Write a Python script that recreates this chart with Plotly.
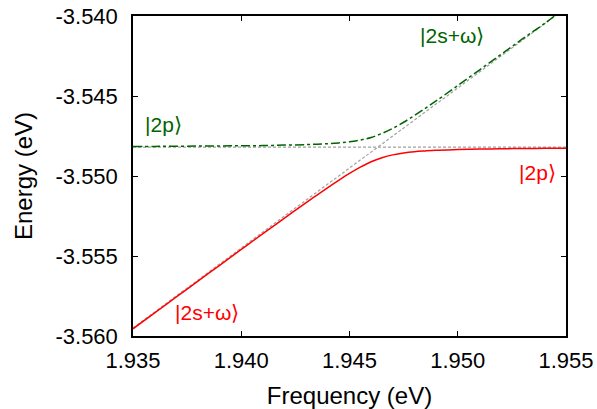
import plotly.graph_objects as go

# Frequency samples (eV)
freq = [1.935, 1.936, 1.937, 1.938, 1.939, 1.940, 1.941, 1.942, 1.943, 1.9435,
        1.944, 1.9445, 1.945, 1.9455, 1.946, 1.9465, 1.947, 1.9475, 1.948, 1.9485,
        1.949, 1.950, 1.951, 1.952, 1.953, 1.954, 1.955]

# Lower branch (red, solid)
lower = [-3.55955, -3.55855, -3.55756, -3.55657, -3.55558, -3.55459, -3.55360, -3.55263,
         -3.55166, -3.55119, -3.55072, -3.55027, -3.54984, -3.54945, -3.54911, -3.54886,
         -3.54868, -3.54856, -3.54848, -3.54843, -3.54839, -3.54835, -3.54832, -3.54830,
         -3.54828, -3.54827, -3.54826]

# Upper branch (green, dash-dot)
upper = [-3.54815, -3.54815, -3.54814, -3.54813, -3.54812, -3.54811, -3.54810, -3.54807,
         -3.54804, -3.54801, -3.54798, -3.54793, -3.54786, -3.54775, -3.54759, -3.54734,
         -3.54702, -3.54664, -3.54622, -3.54577, -3.54531, -3.54435, -3.54338, -3.54240,
         -3.54142, -3.54048, -3.53944]

# Uncoupled states (gray dashed)
bare_x = [1.935, 1.955]
bare_2p = [-3.5482, -3.5482]
bare_2s = [-3.5595, -3.5395]

x_ticks = [1.935, 1.940, 1.945, 1.950, 1.955]
y_ticks = [-3.560, -3.555, -3.550, -3.545, -3.540]

font = "Liberation Sans, Arial, Helvetica, sans-serif"
gray = "#a0a0a0"
green = "#006400"
red = "#ff0000"

fig = go.Figure()
fig.add_trace(go.Scatter(x=bare_x, y=bare_2p, mode="lines",
                         line=dict(color=gray, width=1.2, dash="3px,2px"), hoverinfo="skip"))
fig.add_trace(go.Scatter(x=bare_x, y=bare_2s, mode="lines",
                         line=dict(color=gray, width=1.2, dash="3px,2px"), hoverinfo="skip"))
fig.add_trace(go.Scatter(x=freq, y=upper, mode="lines", line_shape="spline",
                         line=dict(color=green, width=1.5, dash="dashdot")))
fig.add_trace(go.Scatter(x=freq, y=lower, mode="lines", line_shape="spline",
                         line=dict(color=red, width=1.5)))

ann = [
    dict(x=1.93545, y=-3.54681, text="|2p⟩", color=green),
    dict(x=1.94816, y=-3.54119, text="|2s+ω⟩", color=green),
    dict(x=1.95274, y=-3.54975, text="|2p⟩", color=red),
    dict(x=1.93685, y=-3.55856, text="|2s+ω⟩", color=red),
]
for a in ann:
    fig.add_annotation(x=a["x"], y=a["y"], text=a["text"], showarrow=False,
                       xanchor="left", yanchor="middle",
                       font=dict(family=font, size=21, color=a["color"]))

axis_common = dict(showgrid=False, zeroline=False, showline=True, linecolor="black",
                   linewidth=1.5, mirror="ticks", ticks="inside", ticklen=5,
                   tickcolor="black", tickwidth=1, automargin=False,
                   tickfont=dict(family=font, size=22, color="black"))

fig.update_xaxes(range=[1.935, 1.955], tickvals=x_ticks,
                 ticktext=[f"{v:.3f}" for v in x_ticks],
                 ticklabelstandoff=4,
                 title=dict(text="Frequency (eV)", font=dict(family=font, size=24, color="black"),
                            standoff=20),
                 **axis_common)
fig.update_yaxes(range=[-3.560, -3.540], tickvals=y_ticks,
                 ticktext=[f"{v:.3f}" for v in y_ticks],
                 ticklabelstandoff=9,
                 title=dict(text="Energy (eV)", font=dict(family=font, size=24, color="black"),
                            standoff=16),
                 **axis_common)

fig.update_layout(width=597, height=409, showlegend=False,
                  margin=dict(l=133, r=31, t=16, b=73),
                  plot_bgcolor="white", paper_bgcolor="white")

fig.write_html("out.html")
